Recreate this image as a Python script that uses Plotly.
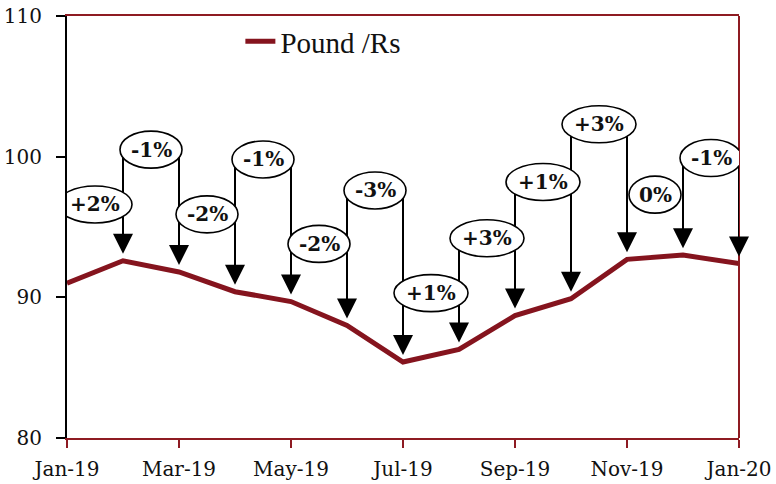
import plotly.graph_objects as go

# Monthly Pound / Rupee level
months = ["Jan-19", "Feb-19", "Mar-19", "Apr-19", "May-19", "Jun-19", "Jul-19",
          "Aug-19", "Sep-19", "Oct-19", "Nov-19", "Dec-19", "Jan-20"]
pound_rs = [91.0, 92.6, 91.8, 90.4, 89.7, 88.0, 85.4, 86.3, 88.7, 89.9, 92.7, 93.0, 92.4]
tick_labels = ["Jan-19", "Mar-19", "May-19", "Jul-19", "Sep-19", "Nov-19", "Jan-20"]

# Height (in axis units) at which each month-on-month change bubble sits
bubble_levels = [96.6, 100.5, 95.9, 99.8, 93.8, 97.6, 90.3, 94.2, 98.2, 102.3, 97.3, 99.9]

W, H = 776, 484
MARGIN = dict(l=67, r=37, t=16, b=46)
Y_LO, Y_HI = 80, 110
plot_w = W - MARGIN["l"] - MARGIN["r"]
plot_h = H - MARGIN["t"] - MARGIN["b"]
px_x = plot_w / (len(months) - 1)
px_y = plot_h / (Y_HI - Y_LO)

LINE_RED = "#85141E"
FRAME_RED = "#8E1B22"
TICK_FONT = dict(family="DejaVu Serif", size=20, color="#111111")
BUBBLE_FONT = dict(family="DejaVu Serif", size=20, color="#111111")


def change_label(prev, cur):
    pct = (cur / prev - 1) * 100
    r = round(pct)
    return "0%" if r == 0 else f"{r:+d}%"


labels = [change_label(pound_rs[i], pound_rs[i + 1]) for i in range(len(pound_rs) - 1)]
x_idx = list(range(len(months)))

fig = go.Figure()
fig.add_trace(go.Scatter(
    x=x_idx, y=pound_rs, mode="lines", name="Pound /Rs",
    line=dict(color=LINE_RED, width=5),
))

shapes = [dict(type="line", xref="paper", yref="paper", x0=1, x1=1, y0=0, y1=1,
               line=dict(color=FRAME_RED, width=2), layer="above")]
annotations = []

gap = 7 / px_y          # space between arrow tip and the line
head = 14 / px_y        # arrowhead length

# connector lines from every bubble down to the two months it spans
for i, level in enumerate(bubble_levels):
    for m in (i, i + 1):
        if m == 0:
            continue
        tip = pound_rs[m] + gap
        shapes.append(dict(type="line", xref="x", yref="y", x0=m, x1=m,
                           y0=level, y1=tip + head * 0.6,
                           line=dict(color="black", width=2), layer="above"))

# bubbles
for i, (level, lab) in enumerate(zip(bubble_levels, labels)):
    w_px = 74 if lab.startswith("+") else (52 if lab == "0%" else 62)
    h_px = 37
    xc = i + 0.5
    shapes.append(dict(type="circle", xref="x", yref="y",
                       x0=xc - w_px / 2 / px_x, x1=xc + w_px / 2 / px_x,
                       y0=level - h_px / 2 / px_y, y1=level + h_px / 2 / px_y,
                       fillcolor="white", line=dict(color="black", width=1.6),
                       layer="above"))
    annotations.append(dict(x=xc, y=level, xref="x", yref="y", text=f"<b>{lab}</b>",
                            showarrow=False, font=BUBBLE_FONT))

# arrowheads pointing at each month's value
for m in range(1, len(months)):
    annotations.append(dict(x=m, y=pound_rs[m] + gap, xref="x", yref="y", text="",
                            showarrow=True, ax=0, ay=-18, arrowhead=2, arrowsize=2.0,
                            arrowwidth=2, arrowcolor="black", standoff=0))

fig.update_layout(
    width=W, height=H, margin=MARGIN,
    paper_bgcolor="white", plot_bgcolor="white",
    shapes=shapes, annotations=annotations,
    showlegend=True,
    legend=dict(x=0.258, y=1.0, xanchor="left", yanchor="top",
                bgcolor="rgba(0,0,0,0)",
                font=dict(family="Liberation Serif", size=29, color="#111111")),
    xaxis=dict(range=[0, len(months) - 1], tickmode="array",
               tickvals=x_idx[::2], ticktext=tick_labels,
               showgrid=False, zeroline=False, automargin=False,
               showline=True, linecolor=FRAME_RED, linewidth=2, mirror=True,
               ticks="outside", ticklen=8, tickwidth=2, tickcolor=FRAME_RED,
               ticklabelstandoff=4, tickfont=TICK_FONT),
    yaxis=dict(range=[Y_LO, Y_HI], tickvals=[80, 90, 100, 110],
               showgrid=False, zeroline=False, automargin=False,
               showline=True, linecolor="black", linewidth=2,
               ticks="outside", ticklen=9, tickwidth=2, tickcolor="black",
               ticklabelstandoff=10, tickfont=TICK_FONT),
)

fig.write_html("out.html")
